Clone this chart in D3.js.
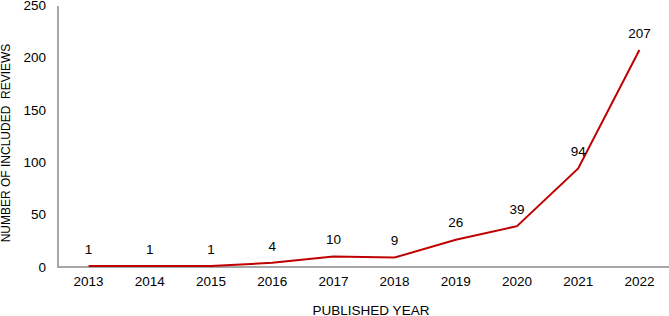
<!DOCTYPE html>
<html>
<head>
<meta charset="utf-8">
<script src="https://cdn.jsdelivr.net/npm/d3@7"></script>
<style>
  body { margin: 0; background: #fff; }
  svg { display: block; font-family: "Liberation Sans", Arial, sans-serif; }
</style>
</head>
<body>
<div id="chart"></div>
<script>
const years = ['2013', '2014', '2015', '2016', '2017', '2018', '2019', '2020', '2021', '2022'];
const reviews = [1, 1, 1, 4, 10, 9, 26, 39, 94, 207];
const yTicks = [0, 50, 100, 150, 200, 250];

const width = 669;
const height = 316;
const svg = d3.select('#chart').append('svg').attr('width', width).attr('height', height);

const x = d3.scaleBand().domain(years).range([58, 670]).padding(0);
const y = d3.scaleLinear().domain([0, 250]).range([267, 5]);

// axis lines
svg.append('line')
  .attr('x1', 58).attr('x2', 669)
  .attr('y1', y(0)).attr('y2', y(0))
  .attr('stroke', '#a6a6a6').attr('stroke-width', 2);
svg.append('line')
  .attr('x1', 58).attr('x2', 58)
  .attr('y1', y(250) + 1).attr('y2', y(0) + 1)
  .attr('stroke', '#a6a6a6').attr('stroke-width', 2);

// y tick labels
svg.append('g').selectAll('text')
  .data(yTicks)
  .enter()
  .append('text')
  .attr('x', 46)
  .attr('y', (d) => y(d))
  .attr('dy', '0.35em')
  .attr('text-anchor', 'end')
  .attr('font-size', 13.5)
  .attr('fill', '#000')
  .text((d) => d);

// x tick labels
svg.append('g').selectAll('text')
  .data(years)
  .enter()
  .append('text')
  .attr('x', (d) => x(d) + x.bandwidth() / 2)
  .attr('y', 281.5)
  .attr('dy', '0.35em')
  .attr('text-anchor', 'middle')
  .attr('font-size', 13.5)
  .attr('fill', '#000')
  .text((d) => d);

const line = d3.line()
  .x((_, i) => x(years[i]) + x.bandwidth() / 2)
  .y((d) => y(d));

svg.append('path')
  .datum(reviews)
  .attr('fill', 'none')
  .attr('stroke', '#c00000')
  .attr('stroke-width', 2)
  .attr('d', line);

// data labels
svg.append('g').selectAll('text')
  .data(reviews)
  .enter()
  .append('text')
  .attr('x', (_, i) => x(years[i]) + x.bandwidth() / 2)
  .attr('y', (d) => y(d) - 17)
  .attr('dy', '0.35em')
  .attr('text-anchor', 'middle')
  .attr('font-size', 13.5)
  .attr('fill', '#000')
  .text((d) => d);

// axis titles
svg.append('text')
  .attr('x', 371)
  .attr('y', 315)
  .attr('text-anchor', 'middle')
  .attr('font-size', 13.5)
  .attr('fill', '#000')
  .text('PUBLISHED YEAR');

svg.append('text')
  .attr('transform', 'translate(6,143) rotate(-90)')
  .attr('dy', '0.35em')
  .attr('text-anchor', 'middle')
  .attr('font-size', 12)
  .attr('fill', '#000')
  .style('white-space', 'pre')
  .text('NUMBER OF INCLUDED  REVIEWS');
</script>
</body>
</html>
